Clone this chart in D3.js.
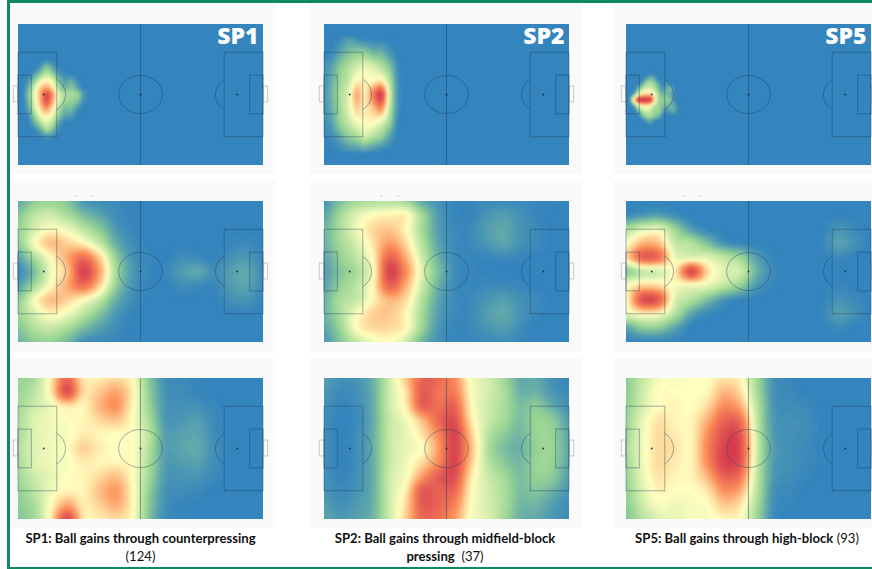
<!DOCTYPE html>
<html><head><meta charset="utf-8">
<script src="https://cdn.jsdelivr.net/npm/d3@7"></script>
<style>html,body{margin:0;padding:0;background:#fff;overflow:hidden}svg{display:block}</style>
</head><body><div id="chart"></div>
<script>
const sp1Open = [
[0,0,0,0,0,0,0,0,0,0,0,0],
[0,0,0,5,18,8,0,0,0,0,0,0],
[0,0,6,20,32,22,6,2,0,0,0,0],
[0,5,22,42,52,42,18,8,12,3,0,0],
[0,12,38,60,68,55,28,15,20,10,0,0],
[0,18,45,68,95,72,42,30,28,25,8,0],
[0,15,42,66,92,66,40,26,24,18,4,0],
[0,10,36,58,72,54,30,16,18,6,0,0],
[0,4,24,46,54,44,22,10,8,0,0,0],
[0,0,14,30,42,32,10,0,0,0,0,0],
[0,0,2,12,28,18,3,0,0,0,0,0],
[0,0,0,2,5,3,0,0,0,0,0,0],
[0,0,0,0,0,0,0,0,0,0,0,0]];
const sp2Open = [
[0,0,2,7,3,0,0,0,0,0,0],
[0,2,10,18,22,22,15,14,6,0,0],
[3,10,22,30,38,44,40,32,20,3,0],
[4,14,26,36,52,52,50,54,32,5,0],
[6,16,30,42,68,54,78,98,42,6,0],
[5,14,28,42,60,54,62,74,36,5,0],
[3,10,25,35,46,50,50,42,26,2,0],
[1,4,12,22,28,38,30,24,10,0,0],
[0,0,2,5,6,8,5,1,0,0,0]];
const sp5Open = [
[0,0,0,0,0,0,0,0,0,0,0,0,0],
[0,0,0,0,8,18,10,0,0,0,0,0,0],
[0,0,0,12,28,30,24,10,0,6,0,0,0],
[0,0,18,34,42,42,32,18,6,14,18,0,0],
[0,15,45,58,62,62,48,26,16,18,12,0,0],
[10,55,95,100,100,96,56,28,22,22,18,0,0],
[0,16,46,58,60,52,36,26,20,15,16,8,0],
[0,0,18,34,40,36,26,26,12,5,12,10,0],
[0,0,0,16,28,28,22,16,3,0,0,0,0],
[0,0,0,0,8,12,3,0,0,0,0,0,0],
[0,0,0,0,0,0,0,0,0,0,0,0,0]];
const sp1Mid = [
[12,22,25,20,6,3,2,0,0,0,0,0,0,0,0,0],
[20,34,38,30,18,10,3,1,0,0,0,0,0,0,0,0],
[24,40,50,46,34,22,7,1,0,0,0,0,0,0,0,0],
[22,48,64,60,52,36,13,3,0,0,0,0,0,1,2,0],
[10,30,50,68,84,60,24,5,1,0,3,2,0,4,6,1],
[2,18,46,62,98,70,28,7,1,1,7,11,3,8,11,2],
[8,28,50,68,84,60,24,5,1,0,3,2,1,7,10,2],
[22,48,64,60,50,36,13,3,0,0,0,0,0,4,5,0],
[26,40,52,46,34,20,6,1,0,0,0,0,0,0,0,0],
[20,32,36,30,18,9,3,0,0,0,0,0,0,0,0,0],
[14,22,24,16,4,2,1,0,0,0,0,0,0,0,0,0]];
const sp2Mid = [
[5,18,28,30,32,28,12,4,1,1,2,2,2,1,1,0],
[10,28,42,50,52,52,28,7,1,1,5,8,4,1,0,0],
[14,30,46,58,62,52,28,8,2,2,8,11,5,2,0,0],
[14,28,40,56,72,58,32,10,2,2,6,10,4,2,0,0],
[10,24,35,52,88,68,38,14,2,1,1,2,1,0,0,0],
[8,20,30,48,98,76,42,18,3,1,0,0,0,0,0,0],
[10,24,34,52,88,68,38,14,2,1,2,2,1,0,0,0],
[14,30,36,52,66,58,32,10,2,2,5,8,4,2,0,0],
[14,30,48,60,62,52,28,8,2,2,8,11,5,1,0,0],
[10,26,50,58,58,52,26,6,1,2,5,8,3,0,0,0],
[6,20,36,46,50,38,16,4,1,1,2,3,1,0,0,0]];
const sp5Mid = [
[0,0,0,0,0,0,0,0,0,0,0,0,0,0,0,0],
[2,6,8,3,0,0,0,0,0,0,0,0,0,0,0,0],
[30,42,45,26,8,1,0,0,0,0,0,0,0,5,2,0],
[48,66,64,36,32,18,5,1,0,0,0,0,1,9,4,0],
[58,88,84,46,42,42,34,26,8,1,0,0,0,2,0,0],
[22,36,40,54,96,58,42,38,14,2,0,0,0,0,0,0],
[50,60,58,48,46,44,34,24,6,1,0,0,0,1,0,0],
[50,94,90,42,32,18,6,1,0,0,0,0,0,4,2,0],
[44,52,50,32,10,2,0,0,0,0,0,0,1,8,4,0],
[10,22,22,10,0,0,0,0,0,0,0,0,0,2,0,0],
[0,0,0,0,0,0,0,0,0,0,0,0,0,0,0,0]];
const sp1Low = [
[24,30,54,86,56,54,58,50,22,4,2,1,0,0,0,0],
[26,34,54,94,58,62,70,54,24,5,3,1,0,0,0,0],
[28,38,46,56,52,66,74,52,26,6,4,4,1,0,0,0],
[30,42,46,50,52,58,62,50,30,7,6,8,2,0,0,0],
[30,42,46,48,54,52,50,50,34,9,9,10,3,0,0,0],
[32,42,46,50,60,54,50,50,32,9,10,11,4,0,0,0],
[30,42,46,48,54,52,52,50,30,8,8,9,3,0,0,0],
[28,38,44,50,52,58,64,50,28,7,5,5,2,0,0,0],
[24,34,46,52,52,64,72,52,24,5,3,2,0,0,0,0],
[22,30,50,70,54,60,68,52,22,4,1,0,0,0,0,0],
[20,28,54,96,56,54,58,50,20,3,1,0,0,0,0,0]];
const sp2Low = [
[9,4,5,14,38,62,88,86,76,48,40,28,12,12,4,1],
[6,2,4,13,38,56,90,82,80,50,40,30,14,14,6,2],
[4,1,3,13,38,54,88,84,88,52,38,30,18,22,12,4],
[3,0,2,12,36,46,64,86,94,56,38,28,18,25,22,8],
[3,0,3,13,36,44,56,76,98,62,34,22,16,25,24,10],
[3,0,3,13,36,44,50,72,98,66,32,18,14,24,25,11],
[3,0,3,13,36,46,58,76,98,62,34,22,16,25,24,10],
[4,1,4,13,38,48,72,90,94,56,38,28,18,24,22,8],
[5,2,5,13,38,54,90,88,86,52,40,30,18,20,14,5],
[8,4,7,14,38,58,90,88,78,50,40,30,16,15,8,3],
[10,7,9,15,38,60,86,84,72,48,42,28,14,12,6,3]];
const sp5Low = [
[22,36,48,48,50,50,56,52,28,5,1,0,0,0,0,0],
[22,38,50,50,50,52,66,58,30,5,2,0,0,0,0,0],
[24,40,50,52,50,58,76,68,34,6,3,2,0,0,0,0],
[26,44,56,52,52,68,88,84,36,7,4,3,0,0,0,0],
[28,46,58,54,52,75,95,92,38,8,4,3,0,0,0,0],
[30,46,58,56,52,78,98,95,40,9,4,2,0,0,0,0],
[28,46,58,54,52,76,98,92,38,8,4,2,0,0,0,0],
[26,44,56,52,52,66,88,82,36,7,3,1,0,0,0,0],
[24,42,52,50,50,56,74,68,34,5,2,0,0,0,0,0],
[22,38,48,46,48,50,62,56,30,4,1,0,0,0,0,0],
[20,32,42,44,48,48,52,50,26,3,0,0,0,0,0,0]];

// grid origins and steps, in pitch units (120 x 80)
const fullGrid = {u0:0, du:8, v0:0, dv:8};
const sp1OpenGrid = {u0:2, du:3, v0:20, dv:4};
const sp2OpenGrid = {u0:0, du:4, v0:8, dv:8};
const sp5OpenGrid = {u0:2, du:2, v0:28, dv:3};

const tags = ["SP1","SP2","SP5"];
const heatRows = [
  [[sp1Open,sp1OpenGrid],[sp2Open,sp2OpenGrid],[sp5Open,sp5OpenGrid]],
  [[sp1Mid,fullGrid],[sp2Mid,fullGrid],[sp5Mid,fullGrid]],
  [[sp1Low,fullGrid],[sp2Low,fullGrid],[sp5Low,fullGrid]]
];
const captions = [
  {x:140.5, lines:[[["SP1: Ball gains through counterpressing",true]],[["(124)",false]]]},
  {x:445, lines:[[["SP2: Ball gains through midfield-block",true]],[["pressing",true],["  (37)",false]]]},
  {x:747, lines:[[["SP5: Ball gains through high-block",true],[" (93)",false]]]}
];

const W=872,H=569;
const pitchLeft=[18,324,626], pitchTop=[24,201,378], pitchW=245, pitchH=141;
const cardX=[[10,276],[310,582],[613,872]], cardY=[[3,174],[181,352],[358,528]];
const color=d3.scaleLinear().domain([0,25,50,75,100])
  .range(["#3484bd","#99d594","#ffffbf","#fc8d59","#d53e4f"]).clamp(true);
const levels=d3.range(0.5,100,1);

const svg=d3.select("#chart").append("svg").attr("width",W).attr("height",H);
const defs=svg.append("defs");
defs.append("filter").attr("id","soft").attr("x","-5%").attr("y","-5%").attr("width","110%").attr("height","110%")
  .append("feGaussianBlur").attr("stdDeviation",1.2);

svg.append("rect").attr("width",W).attr("height",H).attr("fill","#fff");

function cubic(p0,p1,p2,p3,t){
  return p1+0.5*t*(p2-p0+t*(2*p0-5*p1+4*p2-p3+t*(3*(p1-p2)+p3-p0)));
}
function upsample(grid,f){
  const ny=grid.length,nx=grid[0].length,w=(nx-1)*f+1,h=(ny-1)*f+1,out=new Array(w*h);
  const at=(i,j)=>grid[Math.max(0,Math.min(ny-1,j))][Math.max(0,Math.min(nx-1,i))];
  for(let y=0;y<h;y++){
    const j=Math.min(Math.floor(y/f),ny-2),ty=y/f-j;
    for(let x=0;x<w;x++){
      const i=Math.min(Math.floor(x/f),nx-2),tx=x/f-i,col=[];
      for(let m=-1;m<=2;m++) col.push(cubic(at(i-1,j+m),at(i,j+m),at(i+1,j+m),at(i+2,j+m),tx));
      out[y*w+x]=Math.max(0,Math.min(100,cubic(col[0],col[1],col[2],col[3],ty)));
    }
  }
  return {values:out,w,h};
}

const lineCol="#1c3f60";
heatRows.forEach((row,r)=>row.forEach(([grid,g],c)=>{
  const x=d3.scaleLinear().domain([0,120]).range([pitchLeft[c],pitchLeft[c]+pitchW]);
  const y=d3.scaleLinear().domain([0,80]).range([pitchTop[r],pitchTop[r]+pitchH]);
  const gp=svg.append("g");
  gp.append("rect").attr("x",cardX[c][0]).attr("y",cardY[r][0])
    .attr("width",cardX[c][1]-cardX[c][0]).attr("height",cardY[r][1]-cardY[r][0]).attr("fill","#fafafa");
  if(r===1){
    [-65,-48].forEach(d=>gp.append("circle").attr("cx",x(60)+d).attr("cy",196).attr("r",0.6).attr("fill","#999"));
  }
  const goal=(u0,u1)=>gp.append("rect").attr("x",Math.min(x(u0),x(u1))).attr("y",y(35.2)).attr("width",Math.abs(x(u1)-x(u0))).attr("height",y(44.2)-y(35.2))
    .attr("fill","none").attr("stroke","#c9c9c9").attr("stroke-width",1);
  goal(-2.3,0); goal(120,122.3);

  const cid=`clip${r}${c}`;
  defs.append("clipPath").attr("id",cid).append("rect")
    .attr("x",x(0)).attr("y",y(0)).attr("width",pitchW).attr("height",pitchH);
  const heat=gp.append("g").attr("clip-path",`url(#${cid})`);
  heat.append("rect").attr("x",x(0)).attr("y",y(0)).attr("width",pitchW).attr("height",pitchH).attr("fill",color(0));
  const f=grid[0].length>=16?6:8;
  const up=upsample(grid,f);
  const proj=d3.geoTransform({point(px,py){
    this.stream.point(x(g.u0+(px-.5)/f*g.du),y(g.v0+(py-.5)/f*g.dv));
  }});
  const path=d3.geoPath(proj);
  const shapes=d3.contours().size([up.w,up.h]).thresholds(levels)(up.values);
  heat.append("g").attr("filter","url(#soft)").selectAll("path").data(shapes).join("path")
    .attr("d",path).attr("fill",d=>color(d.value+.5));

  // pitch markings
  const m=gp.append("g").attr("fill","none").attr("stroke",lineCol).attr("stroke-opacity",.45).attr("stroke-width",.9);
  const box=(u0,v0,u1,v1)=>m.append("rect").attr("x",x(u0)).attr("y",y(v0)).attr("width",x(u1)-x(u0)).attr("height",y(v1)-y(v0));
  m.append("line").attr("x1",x(60)).attr("x2",x(60)).attr("y1",y(0)).attr("y2",y(80)).attr("stroke-width",1.1);
  m.append("ellipse").attr("cx",x(60)).attr("cy",y(40)).attr("rx",x(10.7)-x(0)).attr("ry",y(10.8)-y(0));
  box(0,16,19,64); box(101,16,120,64);
  box(0,29,6.5,51); box(113.5,29,120,51);
  const arc=(su,dir)=>{
    const rx=x(10.7)-x(0),ry=y(10.8)-y(0),ex=x(19)-x(12.6);
    const yy=ry*Math.sqrt(1-(ex/rx)*(ex/rx));
    const bx=dir>0?x(19):x(101);
    m.append("path").attr("d",`M${bx},${y(40)-yy}A${rx},${ry} 0 0 ${dir>0?1:0} ${bx},${y(40)+yy}`);
  };
  arc(12.6,1); arc(107.4,-1);
  [12.6,60,107.4].forEach(u=>gp.append("circle").attr("cx",x(u)).attr("cy",y(40)).attr("r",.9).attr("fill","#12324f"));

  if(r===0){
    gp.append("text").attr("x",x(120)-4.5).attr("y",y(0)+20).attr("text-anchor","end")
      .attr("font-family","'Open Sans'").attr("font-weight",800).attr("font-size",23).attr("fill","#fff").text(tags[c]);
  }
}));

// captions
captions.forEach(cap=>cap.lines.forEach((ln,i)=>{
  const t=svg.append("text").attr("x",cap.x).attr("y",543+i*17.5).attr("text-anchor","middle")
    .attr("font-family","Lato").attr("font-size",13.1).attr("fill","#111");
  ln.forEach(([s,b])=>t.append("tspan").attr("font-weight",b?700:400).attr("xml:space","preserve").text(s));
}));

// frame
const green="#0f8a5f";
svg.append("rect").attr("x",7).attr("y",0).attr("width",W-7).attr("height",3).attr("fill",green);
svg.append("rect").attr("x",7).attr("y",0).attr("width",3).attr("height",H).attr("fill",green);
svg.append("rect").attr("x",7).attr("y",567).attr("width",W-7).attr("height",2).attr("fill",green);
</script></body></html>
